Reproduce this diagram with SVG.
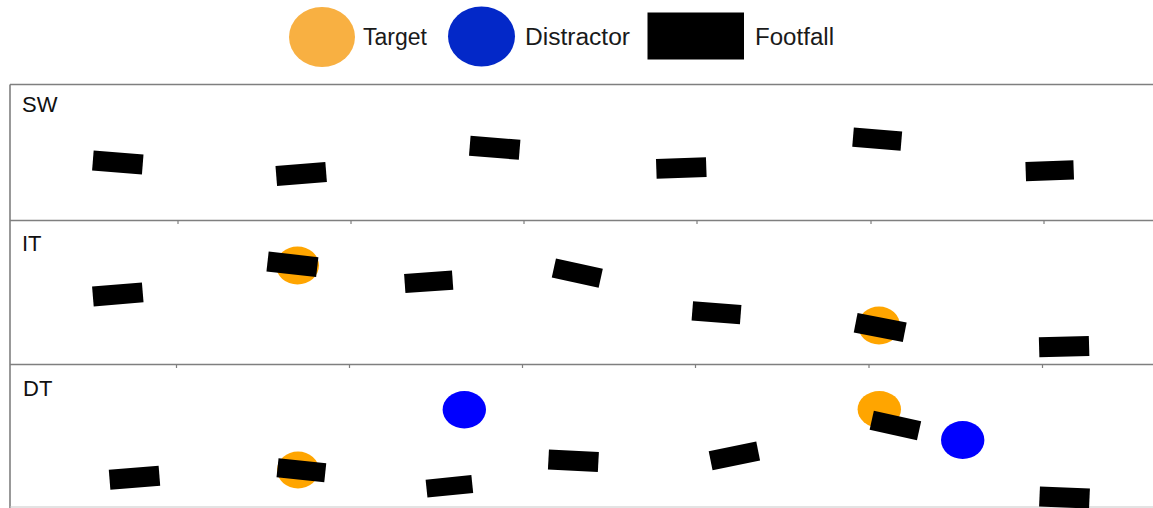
<svg xmlns="http://www.w3.org/2000/svg" xmlns:xlink="http://www.w3.org/1999/xlink" width="1153" height="508" viewBox="0 0 1153 508">
<style>
.bg{fill:#ffffff}
.frame{stroke:#7f7f7f;stroke-width:1.6;fill:none}
.tick{stroke:#7f7f7f;stroke-width:1.2}
.ff{fill:#000000}
.tgt{fill:#FFA500}
.dis{fill:#0000FF}
.lgtxt{font-family:"Liberation Sans",Arial,sans-serif;font-size:23px;fill:#1a1a1a}
.plbl{font-family:"Liberation Sans",Arial,sans-serif;font-size:22px;fill:#111111}
</style>
<defs>
<rect id="foot" class="ff" x="-25" y="-10" width="50" height="20"/>
</defs>
<rect class="bg" x="0" y="0" width="1153" height="508"/>

<g id="legend">
<g id="legend-target">
<ellipse cx="322" cy="37" rx="33" ry="30" fill="#F8B042"/>
<text class="lgtxt" x="363" y="45" textLength="64" lengthAdjust="spacingAndGlyphs">Target</text>
</g>
<g id="legend-distractor">
<ellipse cx="481.5" cy="36.5" rx="33.5" ry="30" fill="#0328C8"/>
<text class="lgtxt" x="525" y="45" textLength="105" lengthAdjust="spacingAndGlyphs">Distractor</text>
</g>
<g id="legend-footfall">
<rect x="647.5" y="12.5" width="96.5" height="47" fill="#000000"/>
<text class="lgtxt" x="755" y="45" textLength="79" lengthAdjust="spacingAndGlyphs">Footfall</text>
</g>
</g>

<g id="frame">
<line class="frame" x1="10" y1="84.5" x2="1153" y2="84.5"/>
<line class="frame" x1="10" y1="84.5" x2="10" y2="508"/>
<line class="frame" x1="10" y1="220.5" x2="1153" y2="220.5"/>
<line class="frame" x1="10" y1="364.5" x2="1153" y2="364.5"/>
<line x1="10" y1="507" x2="1153" y2="507" stroke="#c8c8c8" stroke-width="1.2"/>
<g id="ticks">
<line class="tick" x1="178" y1="220.5" x2="178" y2="224"/>
<line class="tick" x1="351" y1="220.5" x2="351" y2="224"/>
<line class="tick" x1="524" y1="220.5" x2="524" y2="224"/>
<line class="tick" x1="697" y1="220.5" x2="697" y2="224"/>
<line class="tick" x1="871" y1="220.5" x2="871" y2="224"/>
<line class="tick" x1="1044" y1="220.5" x2="1044" y2="224"/>
<line class="tick" x1="176.5" y1="364.5" x2="176.5" y2="368"/>
<line class="tick" x1="349.5" y1="364.5" x2="349.5" y2="368"/>
<line class="tick" x1="522.5" y1="364.5" x2="522.5" y2="368"/>
<line class="tick" x1="695.5" y1="364.5" x2="695.5" y2="368"/>
<line class="tick" x1="869" y1="364.5" x2="869" y2="368"/>
<line class="tick" x1="1042.5" y1="364.5" x2="1042.5" y2="368"/>
</g>
</g>

<g id="panel-SW">
<text class="plbl" x="22" y="112">SW</text>
<use href="#foot" transform="translate(117.8,162.5) rotate(4.5)"/>
<use href="#foot" transform="translate(301.2,174) rotate(-4.6)"/>
<use href="#foot" transform="translate(494.7,147.8) rotate(4.6)"/>
<use href="#foot" transform="translate(681.3,168) rotate(-2)"/>
<use href="#foot" transform="translate(877.2,139.1) rotate(4.8) scale(0.97,0.96)"/>
<use href="#foot" transform="translate(1049.7,170.7) rotate(-2) scale(0.96,0.96)"/>
</g>

<g id="panel-IT">
<text class="plbl" x="22" y="251">IT</text>
<use href="#foot" transform="translate(117.8,294.4) rotate(-4.7)"/>
<ellipse class="tgt" cx="297.5" cy="265.5" rx="21.5" ry="19"/>
<use href="#foot" transform="translate(292.4,264.3) rotate(6.5)"/>
<use href="#foot" transform="translate(428.7,281.8) rotate(-4) scale(0.96,0.96)"/>
<use href="#foot" transform="translate(577.3,273.1) rotate(12.5) scale(0.96,0.97)"/>
<use href="#foot" transform="translate(716.5,312.7) rotate(4.4) scale(0.97,0.97)"/>
<ellipse class="tgt" cx="879" cy="325.5" rx="21" ry="19"/>
<use href="#foot" transform="translate(880.2,327.5) rotate(11)"/>
<use href="#foot" transform="translate(1064.1,346.6) rotate(-1.6)"/>
</g>

<g id="panel-DT">
<text class="plbl" x="23" y="396">DT</text>
<use href="#foot" transform="translate(134.5,477.8) rotate(-4.6)"/>
<ellipse class="tgt" cx="298" cy="470" rx="21" ry="18.5"/>
<use href="#foot" transform="translate(301.4,470.2) rotate(6) scale(0.96,0.96)"/>
<ellipse class="dis" cx="464.3" cy="409.7" rx="21.7" ry="18.7"/>
<use href="#foot" transform="translate(449.4,486.3) rotate(-5.9) scale(0.92,0.9)"/>
<use href="#foot" transform="translate(573.4,460.7) rotate(3)"/>
<use href="#foot" transform="translate(734.4,455.9) rotate(-11.4) scale(0.97,0.97)"/>
<ellipse class="tgt" cx="879.3" cy="409.3" rx="21.7" ry="18.3"/>
<use href="#foot" transform="translate(895.4,425.5) rotate(12.6) scale(0.97,0.97)"/>
<ellipse class="dis" cx="962.7" cy="440" rx="21.7" ry="19"/>
<use href="#foot" transform="translate(1064.5,497.5) rotate(2.5)"/>
</g>
</svg>
